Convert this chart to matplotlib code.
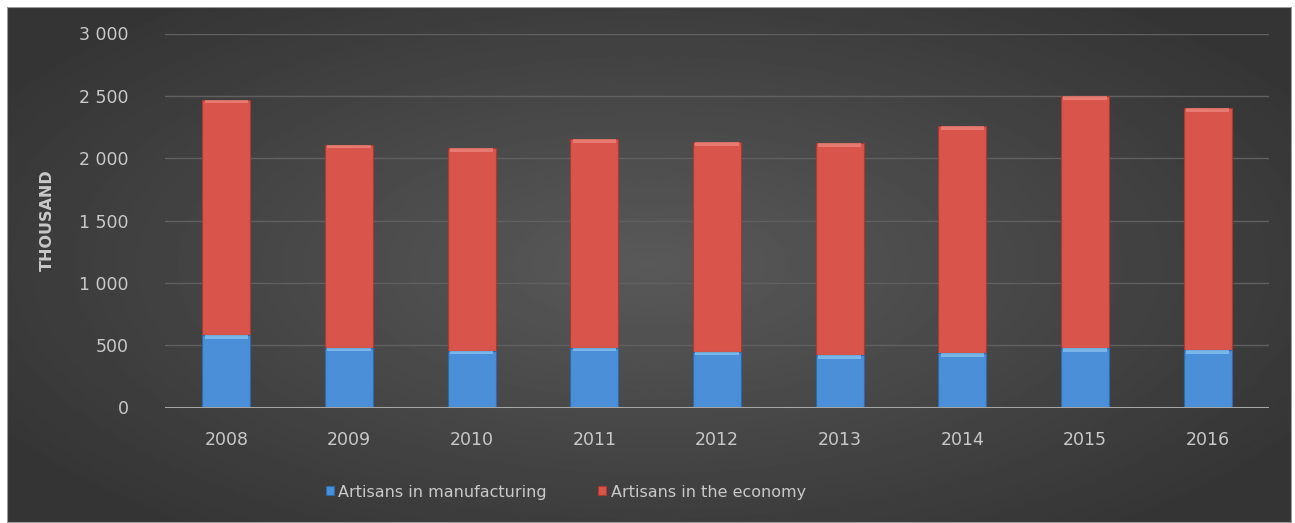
import numpy as np
import matplotlib.pyplot as plt
from matplotlib.patches import Rectangle
from matplotlib.ticker import FuncFormatter

years = ['2008', '2009', '2010', '2011', '2012', '2013', '2014', '2015', '2016']
# thousand people
manufacturing = [582, 480, 456, 480, 448, 422, 435, 475, 462]
economy = [2470, 2108, 2082, 2154, 2127, 2122, 2255, 2496, 2403]

txt = '#c9c9c9'
red = '#d9544a'
blue = '#4a8fd8'

fig = plt.figure(figsize=(12.95, 5.23), dpi=100)
fig.patch.set_facecolor('white')

# dark panel with a soft radial glow
bg = fig.add_axes([7 / 1295, 0, 1285 / 1295, 516 / 523], zorder=0)
yy, xx = np.mgrid[-1:1:300j, -1:1:700j]
r = np.sqrt((xx / 1.0) ** 2 + (yy / 1.1) ** 2)
shade = np.clip(0.35 - 0.12 * r, 0.21, 0.35)
bg.imshow(shade, cmap='gray', vmin=0, vmax=1, aspect='auto', extent=[0, 1, 0, 1])
bg.add_patch(Rectangle((0, 0), 1, 1, transform=bg.transAxes, fill=False,
                       edgecolor='#9a9a9a', linewidth=1.5))
bg.set_axis_off()

ax = fig.add_axes([165 / 1295, 1 - 407.5 / 523, 1104 / 1295, 374 / 523], zorder=1)
ax.set_facecolor('none')

x = np.arange(len(years))
w = 0.39
ax.bar(x, economy, width=w, color=red, edgecolor='#a83a32', linewidth=0.8, zorder=3,
       label='Artisans in the economy')
ax.bar(x, manufacturing, width=w, color=blue, edgecolor='#2f6aa8', linewidth=0.8, zorder=4,
       label='Artisans in manufacturing')

# glossy cap on top of each segment
cap = 30
ax.bar(x, cap, bottom=np.array(economy) - cap, width=w * 0.9, color='#f3968c',
       linewidth=0, zorder=5, alpha=0.6)
ax.bar(x, cap, bottom=np.array(manufacturing) - cap, width=w * 0.9, color='#9ad2f5',
       linewidth=0, zorder=5, alpha=0.6)

ax.set_xlim(-0.5, len(years) - 0.5)
ax.set_ylim(0, 3000)
ax.set_yticks(np.arange(0, 3001, 500))
ax.yaxis.set_major_formatter(FuncFormatter(lambda v, p: f'{int(v):,}'.replace(',', ' ')))
ax.set_xticks(x)
ax.set_xticklabels(years)

ax.grid(axis='y', color='#606060', linewidth=1.0, zorder=1)
ax.axhline(0, color='#a5a5a5', linewidth=2.2, zorder=6)
for s in ax.spines.values():
    s.set_visible(False)
ax.tick_params(axis='both', length=0, colors=txt, labelsize=12.5)
ax.tick_params(axis='y', pad=26)
ax.tick_params(axis='x', pad=17)

ax.set_ylabel('THOUSAND', color=txt, fontsize=11.5, fontweight='bold', labelpad=18)

handles, labels = ax.get_legend_handles_labels()
leg = fig.legend(handles[::-1], labels[::-1], loc='center', bbox_to_anchor=(0.437, 1 - 492 / 523),
                 ncol=2, frameon=False, fontsize=11.5, handlelength=0.5, handleheight=0.5,
                 handletextpad=0.3, columnspacing=3.2, labelcolor=txt)

plt.savefig('out.png', dpi=100)
